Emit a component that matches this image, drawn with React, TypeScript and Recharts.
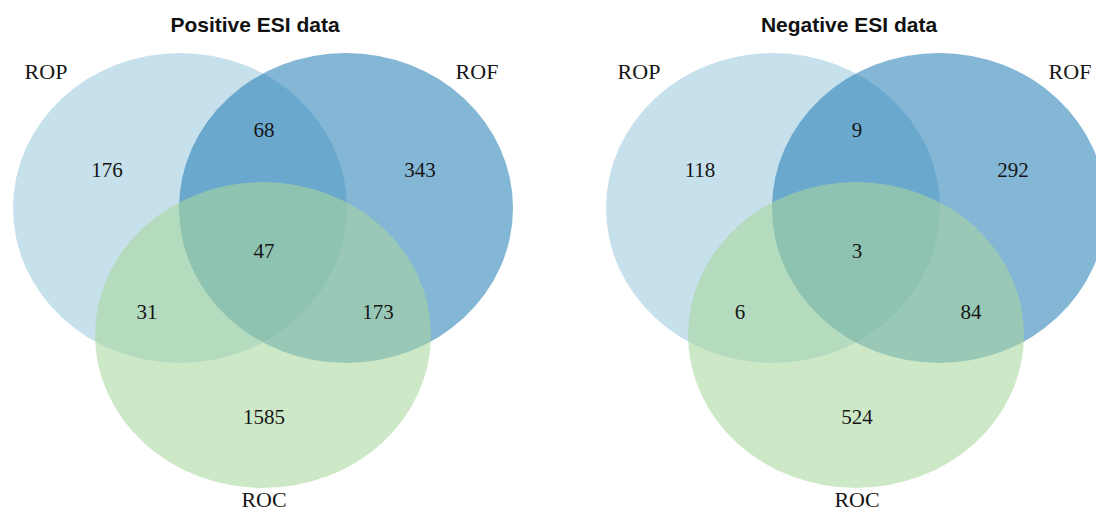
import React from 'react';
import { ScatterChart, Scatter, XAxis, YAxis } from 'recharts';

// ---- data ----
const setNames = ['ROP', 'ROF', 'ROC'];
const panelTitles = ['Positive ESI data', 'Negative ESI data'];
const regionKeys = ['ROP only', 'ROP∩ROF', 'ROF only', 'ROP∩ROF∩ROC', 'ROP∩ROC', 'ROF∩ROC', 'ROC only'];
const positiveCounts = [176, 68, 343, 47, 31, 173, 1585];
const negativeCounts = [118, 9, 292, 3, 6, 84, 524];

// ---- layout (pixel units; axes map 1 unit = 1 px) ----
const W = 1096;
const H = 514;
const PANEL_OFFSETS = [0, 593];
const CIRCLE_LAYOUT = [
  { cx: 180, cy: 208, rx: 167, ry: 155 },
  { cx: 346, cy: 208, rx: 167, ry: 155 },
  { cx: 263, cy: 335, rx: 168, ry: 153 },
];
const CIRCLE_STYLE = [
  { fill: '#c6e0ec', opacity: 1 },
  { fill: '#1f7ab4', opacity: 0.55 },
  { fill: '#a9d79e', opacity: 0.58 },
];
const REGION_POS = [
  [107, 170], [264, 130], [420, 170], [264, 251], [147, 312], [378, 312], [264, 417],
];
const SET_LABEL_POS = [[46, 71], [477, 71], [264, 499]];
const TITLE_POS = [255, 24];

const panelCounts = [positiveCounts, negativeCounts];

const circleData = setNames.map((name, si) =>
  PANEL_OFFSETS.map((off, pi) => ({
    x: CIRCLE_LAYOUT[si].cx + off,
    y: CIRCLE_LAYOUT[si].cy,
    rx: CIRCLE_LAYOUT[si].rx,
    ry: CIRCLE_LAYOUT[si].ry,
    name,
    panel: pi,
  }))
);

const regionData = panelCounts.flatMap((counts, pi) =>
  counts.map((v, ri) => ({
    x: REGION_POS[ri][0] + PANEL_OFFSETS[pi],
    y: REGION_POS[ri][1],
    text: String(v),
    key: regionKeys[ri],
  }))
);

const setLabelData = PANEL_OFFSETS.flatMap((off) =>
  setNames.map((n, si) => ({ x: SET_LABEL_POS[si][0] + off, y: SET_LABEL_POS[si][1], text: n }))
);

const titleData = panelTitles.map((t, pi) => ({
  x: TITLE_POS[0] + PANEL_OFFSETS[pi] + (pi === 1 ? 1 : 0),
  y: TITLE_POS[1],
  text: t,
}));

const makeEllipse = (si: number) => (props: any) => {
  const { cx, cy, payload } = props;
  if (cx == null || cy == null) return <g />;
  return (
    <ellipse
      cx={cx}
      cy={cy}
      rx={payload.rx}
      ry={payload.ry}
      fill={CIRCLE_STYLE[si].fill}
      fillOpacity={CIRCLE_STYLE[si].opacity}
      stroke="none"
    />
  );
};

const serifText = (size: number) => (props: any) => {
  const { cx, cy, payload } = props;
  if (cx == null || cy == null) return <g />;
  return (
    <text
      x={cx}
      y={cy}
      textAnchor="middle"
      dominantBaseline="central"
      fontFamily="'Liberation Serif', 'Times New Roman', serif"
      fontSize={size}
      fill="#161616"
    >
      {payload.text}
    </text>
  );
};

const titleText = (props: any) => {
  const { cx, cy, payload } = props;
  if (cx == null || cy == null) return <g />;
  return (
    <text
      x={cx}
      y={cy}
      textAnchor="middle"
      dominantBaseline="central"
      fontFamily="'Liberation Sans', Arial, sans-serif"
      fontWeight="bold"
      fontSize={21}
      fill="#111111"
    >
      {payload.text}
    </text>
  );
};

export default function App() {
  return (
    <div style={{ position: 'absolute', left: 0, top: 0, width: W, height: H, background: '#ffffff' }}>
      <ScatterChart width={W} height={H} margin={{ top: 0, right: 0, bottom: 0, left: 0 }}>
        <XAxis type="number" dataKey="x" domain={[0, W]} hide allowDataOverflow />
        <YAxis type="number" dataKey="y" domain={[0, H]} reversed hide allowDataOverflow />
        {circleData.map((d, si) => (
          <Scatter
            key={setNames[si]}
            data={d}
            shape={makeEllipse(si)}
            isAnimationActive={false}
          />
        ))}
        <Scatter data={regionData} shape={serifText(21)} isAnimationActive={false} />
        <Scatter data={setLabelData} shape={serifText(22)} isAnimationActive={false} />
        <Scatter data={titleData} shape={titleText} isAnimationActive={false} />
      </ScatterChart>
    </div>
  );
}
